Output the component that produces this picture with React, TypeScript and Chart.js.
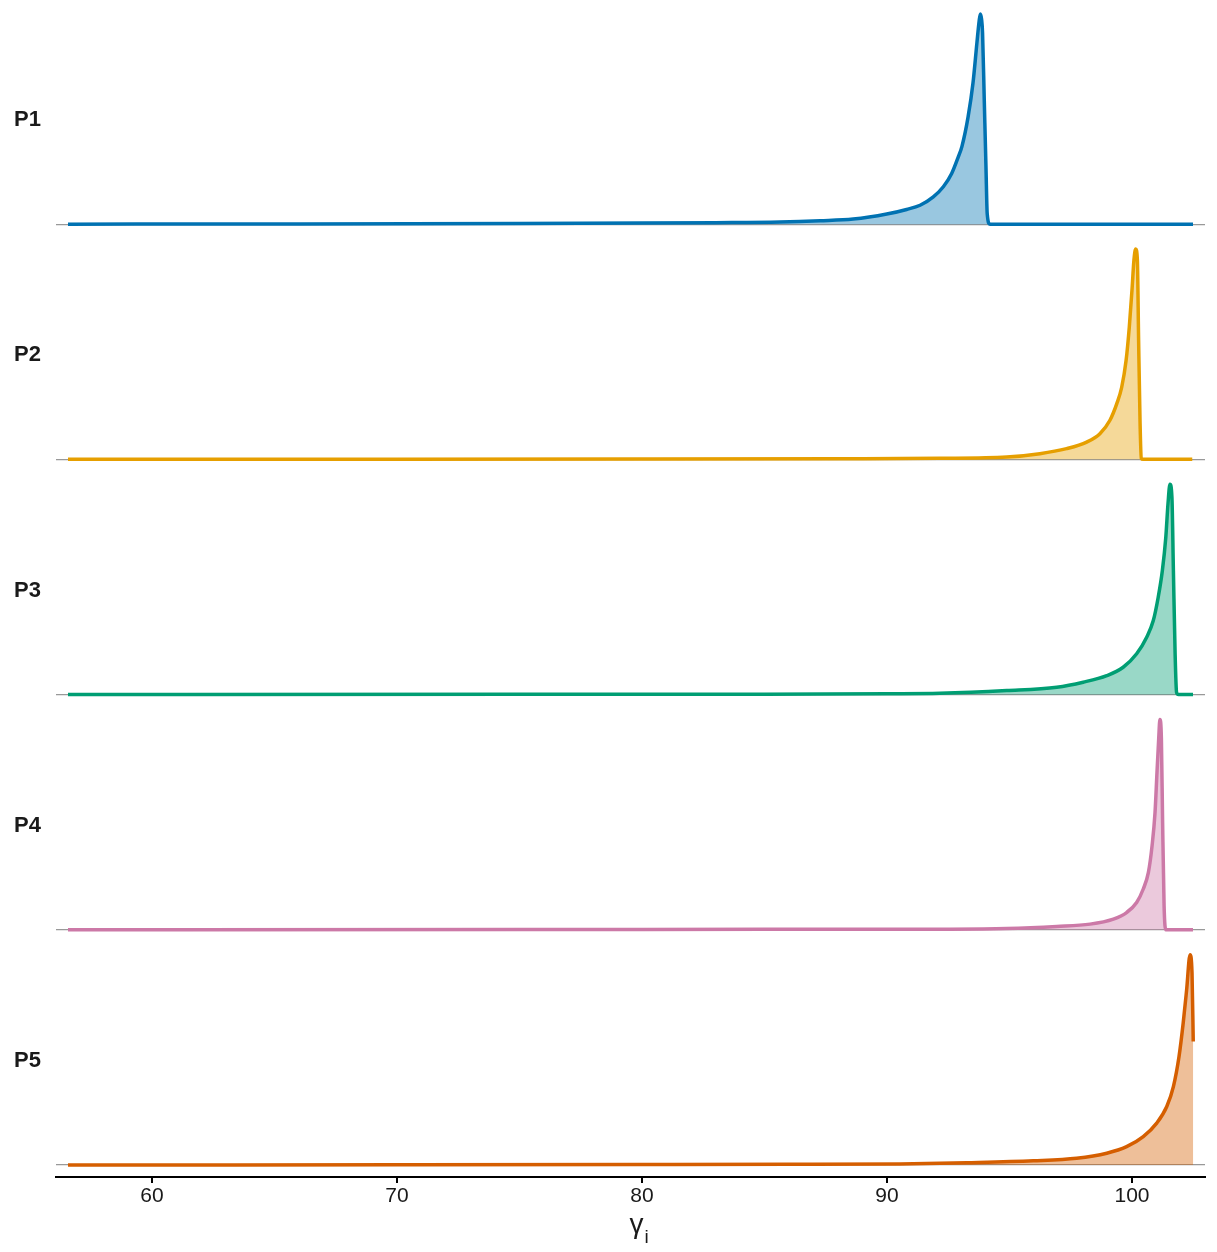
import React, { useEffect, useRef } from "react";
import { Chart, registerables } from "chart.js";

Chart.register(...registerables);

// ---- data ----
const categories = ["P1", "P2", "P3", "P4", "P5"];
const lineColors = ["#0072B2", "#E69F00", "#009E73", "#CC79A7", "#D55E00"];
const fillColors = [
  "rgba(0,114,178,0.4)",
  "rgba(230,159,0,0.4)",
  "rgba(0,158,115,0.4)",
  "rgba(204,121,167,0.4)",
  "rgba(213,94,0,0.4)",
];
const xTicks = [60, 70, 80, 90, 100];

// relative density heights (peak = 1)
const p1X = [56.57, 65, 75, 80, 83, 85.63, 87.27, 88.62, 89.99, 90.8, 91.35, 91.89, 92.3, 92.64, 92.91, 93.06, 93.31, 93.51, 93.67, 93.76, 93.81, 93.86, 93.9, 93.97, 94.04, 94.09, 94.2, 102.49];
const p1Y = [0, 0.001, 0.003, 0.005, 0.007, 0.01, 0.016, 0.024, 0.048, 0.07, 0.09, 0.13, 0.178, 0.241, 0.32, 0.37, 0.51, 0.671, 0.862, 0.965, 1.0, 0.975, 0.91, 0.59, 0.27, 0.05, 0, 0];

const p2X = [56.57, 70, 80, 88, 92.16, 94.89, 96.24, 97.33, 98.15, 98.69, 99.1, 99.38, 99.58, 99.76, 99.89, 100.0, 100.08, 100.15, 100.22, 100.27, 100.33, 100.38, 100.45, 102.46];
const p2Y = [0, 0.001, 0.002, 0.003, 0.005, 0.011, 0.027, 0.051, 0.082, 0.122, 0.186, 0.265, 0.343, 0.471, 0.629, 0.805, 0.948, 1.0, 0.948, 0.567, 0.171, 0.005, 0, 0];

const p3X = [56.57, 75, 85, 90, 92.16, 94.89, 96.93, 98.01, 98.97, 99.64, 100.19, 100.6, 100.87, 101.07, 101.24, 101.38, 101.47, 101.55, 101.63, 101.69, 101.76, 101.82, 101.9, 102.49];
const p3Y = [0, 0.001, 0.002, 0.004, 0.006, 0.019, 0.035, 0.059, 0.09, 0.13, 0.194, 0.273, 0.352, 0.463, 0.59, 0.748, 0.908, 1.0, 0.938, 0.59, 0.194, 0.01, 0, 0];

const p4X = [56.57, 75, 85, 92.16, 94.89, 96.93, 98.29, 99.24, 99.78, 100.19, 100.46, 100.67, 100.82, 100.94, 101.02, 101.09, 101.14, 101.2, 101.25, 101.31, 101.38, 102.49];
const p4Y = [0, 0.001, 0.002, 0.003, 0.006, 0.016, 0.027, 0.051, 0.082, 0.13, 0.194, 0.273, 0.4, 0.557, 0.748, 0.908, 1.0, 0.908, 0.51, 0.114, 0, 0];

const p5X = [56.57, 70, 80, 86, 90.53, 93.25, 95.97, 97.74, 98.97, 99.78, 100.46, 101.01, 101.42, 101.69, 101.92, 102.09, 102.23, 102.37, 102.45, 102.5];
const p5Y = [0, 0.001, 0.002, 0.003, 0.005, 0.011, 0.02, 0.032, 0.056, 0.087, 0.135, 0.199, 0.278, 0.373, 0.516, 0.675, 0.833, 1.0, 0.913, 0.587];

const seriesX = [p1X, p2X, p3X, p4X, p5X];
const seriesY = [p1Y, p2Y, p3Y, p4Y, p5Y];

const FONT = "'Liberation Sans', Arial, Helvetica, sans-serif";
const RIDGE_SCALE = 0.894;

const titlePlugin = {
  id: "gammaTitle",
  afterDraw(chart: any) {
    const { ctx, chartArea } = chart;
    const xs = chart.scales.x;
    // explicit x tick marks below the axis line
    ctx.save();
    ctx.strokeStyle = "#000";
    ctx.lineWidth = 2;
    xTicks.forEach((v) => {
      const px = Math.round(xs.getPixelForValue(v));
      ctx.beginPath();
      ctx.moveTo(px, chartArea.bottom);
      ctx.lineTo(px, chartArea.bottom + 6);
      ctx.stroke();
    });
    const cx = (chartArea.left + chartArea.right) / 2 + 6;
    ctx.fillStyle = "#1a1a1a";
    ctx.textBaseline = "alphabetic";
    ctx.textAlign = "center";
    ctx.font = `28px ${FONT}`;
    ctx.fillText("γ", cx, 1225);
    ctx.font = `19px ${FONT}`;
    ctx.textAlign = "left";
    ctx.fillText("i", cx + 8, 1235);
    ctx.restore();
  },
};

export default function App() {
  const ref = useRef<HTMLCanvasElement | null>(null);
  useEffect(() => {
    if (!ref.current) return;
    const n = categories.length;
    const datasets = categories.map((name, i) => {
      const offset = n - 1 - i;
      return {
        label: name,
        data: seriesX[i].map((x, j) => ({ x, y: offset + seriesY[i][j] * RIDGE_SCALE })),
        borderColor: lineColors[i],
        backgroundColor: fillColors[i],
        borderWidth: 3.5,
        pointRadius: 0,
        cubicInterpolationMode: "monotone" as const,
        fill: { value: offset },
        order: n - i,
      };
    });
    const chart = new Chart(ref.current, {
      type: "line",
      data: { datasets },
      plugins: [titlePlugin],
      options: {
        animation: false,
        responsive: false,
        layout: { padding: { top: 0, right: 4, bottom: 0, left: 0 } },
        plugins: { legend: { display: false }, tooltip: { enabled: false } },
        scales: {
          x: {
            type: "linear",
            min: 56.08,
            max: 102.98,
            afterBuildTicks: (s: any) => {
              s.ticks = xTicks.map((v) => ({ value: v }));
            },
            afterFit: (s: any) => {
              s.height = 67;
              s.paddingLeft = 0;
              s.paddingRight = 0;
            },
            border: { display: true, color: "#000", width: 2 },
            grid: {
              drawOnChartArea: false,
              drawTicks: true,
              tickLength: 6,
              tickColor: "#000",
              tickWidth: 2,
              color: "#000",
              lineWidth: 2,
            },
            ticks: {
              color: "#1a1a1a",
              font: { family: FONT, size: 21 },
              padding: 1,
              maxRotation: 0,
              callback: (v: any) => String(v),
            },
          },
          y: {
            type: "linear",
            min: -0.051,
            max: 4.919,
            afterBuildTicks: (s: any) => {
              s.ticks = [0, 1, 2, 3, 4].map((v) => ({ value: v }));
            },
            afterFit: (s: any) => {
              s.width = 48;
              s.paddingTop = 0;
              s.paddingBottom = 0;
            },
            border: { display: false },
            grid: { drawTicks: false, color: "#999999", lineWidth: 1.2 },
            ticks: {
              color: "#1a1a1a",
              font: { family: FONT, size: 22, weight: "bold" },
              padding: 15,
              labelOffset: -104,
              callback: (v: any) => categories[n - 1 - Number(v)],
            },
          },
        },
      },
    });
    return () => chart.destroy();
  }, []);
  return (
    <div style={{ width: 1201, height: 1236 }}>
      <canvas ref={ref} width={1201} height={1236} />
    </div>
  );
}
